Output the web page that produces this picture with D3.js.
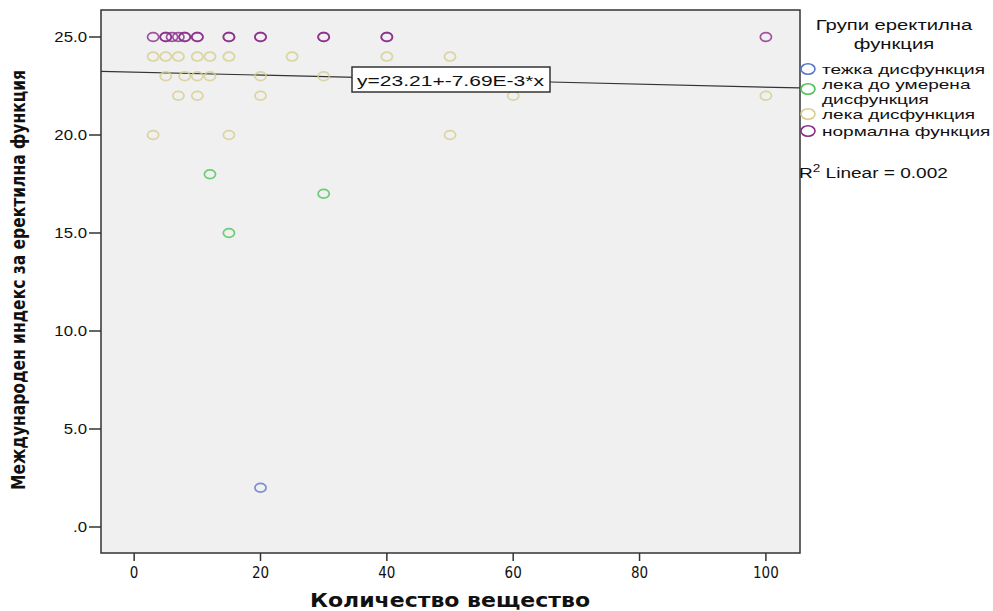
<!DOCTYPE html>
<html>
<head>
<meta charset="utf-8">
<script src="https://cdn.jsdelivr.net/npm/d3@7"></script>
<style>
  body { margin: 0; background: #fff; }
  text { font-family: "Liberation Sans", Arial, sans-serif; fill: #111; }
  .narrow { font-family: "Liberation Sans Narrow", "DejaVu Sans Condensed", "Liberation Sans", sans-serif; }
</style>
</head>
<body>
<div id="chart"></div>
<script>
// groups (legend order) and their colours
var groups = ["тежка дисфункция", "лека до умерена дисфункция", "лека дисфункция", "нормална функция"];
var groupColors = ["#5b76c7", "#4cc35a", "#d4ce8e", "#8a2c8a"];

// points: [amount, IIEF score]
var severe = [[20, 2]];
var mildModerate = [[12, 18], [30, 17], [15, 15]];
var mild = [
  [3, 24], [5, 24], [7, 24], [10, 24], [12, 24], [15, 24], [25, 24], [40, 24], [50, 24],
  [5, 23], [8, 23], [10, 23], [12, 23], [20, 23], [30, 23],
  [7, 22], [10, 22], [20, 22], [60, 22], [100, 22],
  [3, 20], [15, 20], [50, 20]
];
var normal = [
  [3, 25], [5, 25], [5, 25], [6, 25], [7, 25], [8, 25], [8, 25], [10, 25], [10, 25],
  [15, 25], [15, 25], [20, 25], [20, 25], [30, 25], [30, 25], [40, 25], [40, 25], [100, 25]
];

var xTicks = [0, 20, 40, 60, 80, 100];
var yTicks = [0, 5, 10, 15, 20, 25];
var fitIntercept = 23.21, fitSlope = -7.69e-3;
var fitLabel = "y=23.21+-7.69E-3*x";
var rSquared = "0.002";

var width = 993, height = 611;
var plot = { left: 101, right: 800, top: 10, bottom: 553 };

var svg = d3.select("#chart").append("svg")
    .attr("width", width)
    .attr("height", height);

var x = d3.scaleLinear().domain([-5.25, 105.4]).range([plot.left, plot.right]);
var y = d3.scaleLinear().domain([0, 25]).range([527, 37]);

svg.append("rect")
    .attr("x", plot.left).attr("y", plot.top)
    .attr("width", plot.right - plot.left).attr("height", plot.bottom - plot.top)
    .attr("fill", "#f0f0f0");

// clip for marks
svg.append("clipPath").attr("id", "clip")
  .append("rect")
    .attr("x", plot.left).attr("y", plot.top)
    .attr("width", plot.right - plot.left).attr("height", plot.bottom - plot.top);

var g = svg.append("g").attr("clip-path", "url(#clip)");

var allPoints = [];
[severe, mildModerate, mild, normal].forEach(function(arr, gi) {
  arr.forEach(function(p) { allPoints.push({ x: p[0], y: p[1], g: gi }); });
});

// fit line
var xd = x.domain();
g.append("line")
    .attr("x1", x(xd[0])).attr("y1", y(fitIntercept + fitSlope * xd[0]))
    .attr("x2", x(xd[1])).attr("y2", y(fitIntercept + fitSlope * xd[1]))
    .attr("stroke", "#333").attr("stroke-width", 1.2);

g.selectAll(".pt")
  .data(allPoints)
  .enter().append("ellipse")
    .attr("class", "pt")
    .attr("cx", function(d) { return x(d.x); })
    .attr("cy", function(d) { return y(d.y); })
    .attr("rx", 5.6)
    .attr("ry", 4.4)
    .attr("fill", "none")
    .attr("stroke", function(d) { return groupColors[d.g]; })
    .attr("stroke-opacity", 0.8)
    .attr("stroke-width", 1.7);

// equation label
svg.append("rect")
    .attr("x", 352).attr("y", 67).attr("width", 198).attr("height", 25)
    .attr("fill", "#fff").attr("stroke", "#333").attr("stroke-width", 1.5);
svg.append("text")
    .attr("x", 357).attr("y", 86)
    .attr("textLength", 187).attr("lengthAdjust", "spacingAndGlyphs")
    .style("font-size", "15px")
    .text(fitLabel);

// border
svg.append("rect")
    .attr("x", plot.left).attr("y", plot.top)
    .attr("width", plot.right - plot.left).attr("height", plot.bottom - plot.top)
    .attr("fill", "none").attr("stroke", "#333").attr("stroke-width", 1.5);

// x axis
var xAxis = svg.append("g");
xAxis.selectAll("line").data(xTicks).enter().append("line")
    .attr("x1", function(d) { return x(d); }).attr("x2", function(d) { return x(d); })
    .attr("y1", plot.bottom).attr("y2", plot.bottom + 8)
    .attr("stroke", "#333").attr("stroke-width", 1.5);
xAxis.selectAll("text").data(xTicks).enter().append("text")
    .attr("class", "narrow")
    .attr("x", function(d) { return x(d); })
    .attr("y", 578)
    .attr("text-anchor", "middle")
    .style("font-size", "15px")
    .text(function(d) { return d; });

// y axis
var yFmt = function(d) { return d === 0 ? ".0" : d3.format(".1f")(d); };
var yAxis = svg.append("g");
yAxis.selectAll("line").data(yTicks).enter().append("line")
    .attr("x1", plot.left - 12).attr("x2", plot.left)
    .attr("y1", function(d) { return y(d); }).attr("y2", function(d) { return y(d); })
    .attr("stroke", "#333").attr("stroke-width", 1.5);
yAxis.selectAll("text").data(yTicks).enter().append("text")
    .attr("transform", function(d) { return "translate(87," + (y(d) + 5) + ") scale(1.2,1)"; })
    .attr("text-anchor", "end")
    .style("font-size", "14px")
    .text(yFmt);

// axis titles
svg.append("text")
    .attr("class", "narrow")
    .attr("x", 310).attr("y", 607)
    .attr("textLength", 280).attr("lengthAdjust", "spacingAndGlyphs")
    .style("font-size", "20px").style("font-weight", "bold")
    .text("Количество вещество");

svg.append("text")
    .attr("class", "narrow")
    .attr("transform", "translate(25,490) rotate(-90)")
    .attr("textLength", 420).attr("lengthAdjust", "spacingAndGlyphs")
    .style("font-size", "19px").style("font-weight", "bold")
    .text("Международен индекс за еректилна функция");

// legend
var legend = svg.append("g");
legend.append("text")
    .attr("transform", "translate(894,30) scale(1.35,1)")
    .attr("text-anchor", "middle").style("font-size", "15px")
    .text("Групи еректилна");
legend.append("text")
    .attr("transform", "translate(894,49) scale(1.35,1)")
    .attr("text-anchor", "middle").style("font-size", "15px")
    .text("функция");

var legendRows = [
  { cy: 69, lines: [["тежка дисфункция", 74]] },
  { cy: 89, lines: [["лека до умерена", 88.5], ["дисфункция", 103.5]] },
  { cy: 114, lines: [["лека дисфункция", 119]] },
  { cy: 131, lines: [["нормална функция", 136]] }
];
legendRows.forEach(function(r, i) {
  legend.append("ellipse")
      .attr("cx", 808).attr("cy", r.cy)
      .attr("rx", 7).attr("ry", 5.3)
      .attr("fill", "none")
      .attr("stroke", groupColors[i]).attr("stroke-width", 1.6);
  r.lines.forEach(function(l) {
    legend.append("text")
        .attr("transform", "translate(822," + l[1] + ") scale(1.4,1)")
        .style("font-size", "13.6px")
        .text(l[0]);
  });
});

var r2 = legend.append("text")
    .attr("transform", "translate(799,178) scale(1.36,1)")
    .style("font-size", "14px");
r2.append("tspan").text("R");
r2.append("tspan").attr("dy", -6).style("font-size", "10px").text("2");
r2.append("tspan").attr("dy", 6).text(" Linear = " + rSquared);
</script>
</body>
</html>
